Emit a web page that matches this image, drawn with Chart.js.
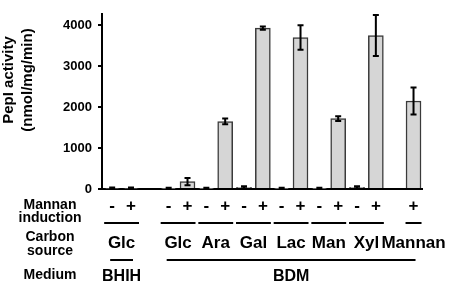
<!DOCTYPE html>
<html>
<head>
<meta charset="utf-8">
<script src="https://cdn.jsdelivr.net/npm/chart.js@4"></script>
<style>
  body { margin: 0; background: #fff; }
  canvas { display: block; }
</style>
</head>
<body>
<canvas id="chart" width="454" height="283"></canvas>
<script>
/* DATA - one slot per bar position, null = empty slot */
const slots = [0, 1, 2, 3, 4, 5, 6, 7, 8, 9, 10, 11, 12, 13, 14, 15, 16];
const activity = [20, 20, null, 15, 180, 15, 1650, 40, 3930, 15, 3700, 15, 1720, 40, 3750, null, 2150];
const errors   = [15, 15, null, 15, 90, 15, 70, 25, 40, 15, 300, 15, 60, 25, 500, null, 330];
const induction = ["-", "+", "", "-", "+", "-", "+", "-", "+", "-", "+", "-", "+", "-", "+", "", "+"];

const carbonLabels = ["Glc", "Glc", "Ara", "Gal", "Lac", "Man", "Xyl", "Mannan"];
const carbonFirst  = [0, 3, 5, 7, 9, 11, 13, 16];
const carbonLast   = [1, 4, 6, 8, 10, 12, 14, 16];

const mediumLabels = ["BHIH", "BDM"];
const mediumFirst  = [0, 3];
const mediumLast   = [1, 16];

const yTicks = [0, 1000, 2000, 3000, 4000];
const yTitle = ["PepI activity", "(nmol/mg/min)"];

const FONT = "'Liberation Sans', Arial, sans-serif";

/* ERROR BARS */
const errorBars = {
  id: "errorBars",
  afterDatasetsDraw(chart) {
    const ctx = chart.ctx;
    const y = chart.scales.y;
    const meta = chart.getDatasetMeta(0);
    ctx.save();
    ctx.strokeStyle = "#000";
    ctx.lineWidth = 2;
    meta.data.forEach((bar, i) => {
      if (activity[i] == null) return;
      const top = y.getPixelForValue(activity[i] + errors[i]);
      const bot = y.getPixelForValue(Math.max(0, activity[i] - errors[i]));
      ctx.beginPath();
      ctx.moveTo(bar.x, top);
      ctx.lineTo(bar.x, bot);
      ctx.moveTo(bar.x - 3, top);
      ctx.lineTo(bar.x + 3, top);
      ctx.moveTo(bar.x - 3, bot);
      ctx.lineTo(bar.x + 3, bot);
      ctx.stroke();
    });
    ctx.restore();
  }
};

/* TABLE UNDER THE AXIS + Y TITLE */
const annotations = {
  id: "annotations",
  afterDraw(chart) {
    const ctx = chart.ctx;
    const x = chart.scales.x;
    const base = chart.chartArea.bottom;
    ctx.save();
    ctx.fillStyle = "#000";
    ctx.strokeStyle = "#000";
    ctx.textAlign = "center";
    ctx.textBaseline = "middle";

    // row headers
    ctx.font = "bold 14px " + FONT;
    ctx.fillText("Mannan", 50, base + 16);
    ctx.fillText("induction", 50, base + 29);
    ctx.fillText("Carbon", 50, base + 48);
    ctx.fillText("source", 50, base + 62);
    ctx.fillText("Medium", 50, base + 86);

    // +/- signs
    ctx.font = "bold 17px " + FONT;
    induction.forEach((s, i) => {
      if (s) ctx.fillText(s, x.getPixelForValue(slots[i]), base + 17);
    });

    // carbon source lines and labels
    ctx.lineWidth = 2;
    ctx.font = "bold 17px " + FONT;
    carbonLabels.forEach((lab, i) => {
      const a = x.getPixelForValue(carbonFirst[i]);
      const b = x.getPixelForValue(carbonLast[i]);
      ctx.beginPath();
      ctx.moveTo(a - 8, base + 34);
      ctx.lineTo(b + 8, base + 34);
      ctx.stroke();
      ctx.fillText(lab, (a + b) / 2, base + 54);
    });

    // medium lines and labels
    ctx.font = "bold 16px " + FONT;
    mediumLabels.forEach((lab, i) => {
      const a = x.getPixelForValue(mediumFirst[i]);
      const b = x.getPixelForValue(mediumLast[i]);
      const c = (a + b) / 2, h = (b - a) / 2 + 2;
      ctx.beginPath();
      ctx.moveTo(c - h, base + 71);
      ctx.lineTo(c + h, base + 71);
      ctx.stroke();
      ctx.fillText(lab, c, base + 88);
    });

    // y title
    ctx.font = "bold 15px " + FONT;
    ctx.translate(0, 80);
    ctx.rotate(-Math.PI / 2);
    ctx.fillText(yTitle[0], 0, 9);
    ctx.fillText(yTitle[1], 0, 28);
    ctx.restore();
  }
};

new Chart(document.getElementById("chart").getContext("2d"), {
  type: "bar",
  data: {
    datasets: [{
      data: slots.map((s, i) => ({ x: s, y: activity[i] })),
      backgroundColor: "#d6d6d6",
      borderColor: "#3a3a3a",
      borderWidth: 1.5,
      barThickness: 15
    }]
  },
  options: {
    responsive: false,
    animation: false,
    layout: { padding: { top: 3, right: 32, bottom: 94, left: 0 } },
    plugins: { legend: { display: false }, tooltip: { enabled: false } },
    scales: {
      x: {
        type: "linear",
        min: -0.54,
        max: 16.45,
        offset: false,
        grid: { display: false, offset: false },
        ticks: { display: false },
        border: { display: true, color: "#000", width: 2 },
        afterFit: s => { s.height = 0; }
      },
      y: {
        min: 0,
        max: 4280,
        afterFit: s => { s.width = 102; },
        afterBuildTicks: s => { s.ticks = yTicks.map(v => ({ value: v })); },
        ticks: {
          color: "#000",
          padding: 6,
          font: { family: FONT, size: 13, weight: "bold" },
          callback: v => String(v)
        },
        grid: { drawOnChartArea: false, color: "#000", tickLength: 4, lineWidth: 2 },
        border: { display: true, color: "#000", width: 2 }
      }
    }
  },
  plugins: [errorBars, annotations]
});
</script>
</body>
</html>
